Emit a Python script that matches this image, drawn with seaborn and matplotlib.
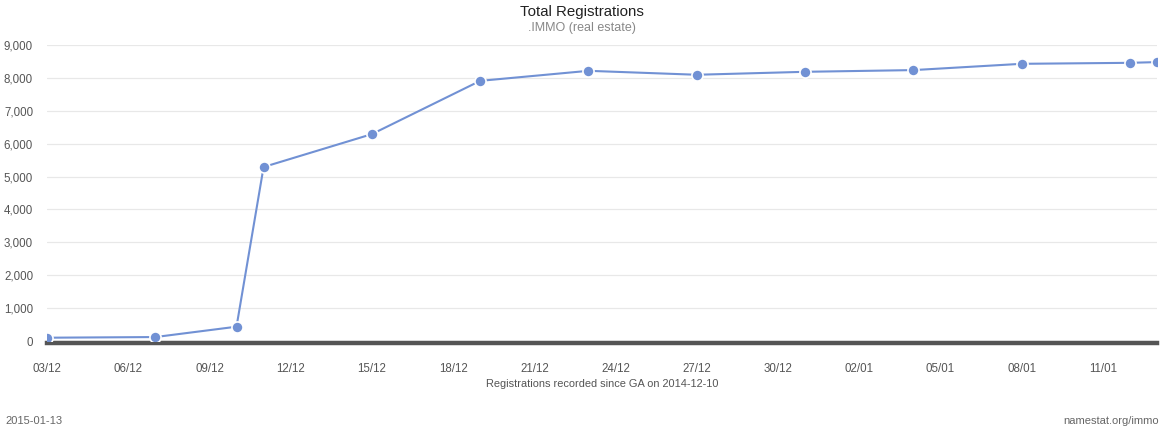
import matplotlib
matplotlib.use("Agg")
import matplotlib.pyplot as plt
import matplotlib.dates as mdates
import seaborn as sns
import pandas as pd
import numpy as np

dates = ["2014-12-03", "2014-12-07", "2014-12-10", "2014-12-11", "2014-12-15",
         "2014-12-19", "2014-12-23", "2014-12-27", "2014-12-31", "2015-01-04",
         "2015-01-08", "2015-01-12", "2015-01-13"]
registrations = [100, 120, 435, 5290, 6290, 7910, 8215, 8095, 8185, 8237, 8428, 8458, 8480]
y_ticks = [0, 1000, 2000, 3000, 4000, 5000, 6000, 7000, 8000, 9000]
tick_dates = ["2014-12-03", "2014-12-06", "2014-12-09", "2014-12-12", "2014-12-15",
              "2014-12-18", "2014-12-21", "2014-12-24", "2014-12-27", "2014-12-30",
              "2015-01-02", "2015-01-05", "2015-01-08", "2015-01-11"]

df = pd.DataFrame({"date": pd.to_datetime(dates), "registrations": registrations})

sns.set_theme(style="white")
plt.rcParams["font.family"] = ["Liberation Sans", "DejaVu Sans"]

W, H = 1164, 430
fig = plt.figure(figsize=(W / 100, H / 100), dpi=100)
ax = fig.add_axes([47 / W, 1 - 341 / H, (1157 - 47) / W, (341 - 45) / H])

line_color = "#7191d4"
sns.lineplot(data=df, x="date", y="registrations", ax=ax, color=line_color,
             linewidth=1.5, marker="o", markersize=8, markeredgecolor="white",
             markeredgewidth=1.2, markerfacecolor=line_color, clip_on=True)

ax.set_xlim(pd.Timestamp("2014-12-03"), pd.Timestamp("2015-01-13"))
ax.set_ylim(0, 9000)
ax.set_yticks(y_ticks)
ax.set_yticklabels([f"{v:,}" for v in y_ticks])
ax.set_xticks(pd.to_datetime(tick_dates))
ax.xaxis.set_major_formatter(mdates.DateFormatter("%d/%m"))

ax.grid(axis="y", color="#e8e8e8", linewidth=0.9)
ax.grid(axis="x", visible=False)
for s in ["top", "right", "left"]:
    ax.spines[s].set_visible(False)
ax.spines["bottom"].set_color("#555555")
ax.spines["bottom"].set_linewidth(3.2)
ax.spines["bottom"].set_position(("outward", 1.5))
ax.spines["bottom"].set_zorder(1)

ax.tick_params(axis="x", length=0, pad=14.5, labelsize=8.3, labelcolor="#555555")
ax.tick_params(axis="y", length=0, pad=10, labelsize=8.3, labelcolor="#555555")
ax.set_xlabel("")
ax.set_ylabel("")

fig.text(582 / W, 1 - 12 / H, "Total Registrations", ha="center", va="center",
         fontsize=10.8, color="#222222")
fig.text(582 / W, 1 - 27.5 / H, ".IMMO (real estate)", ha="center", va="center",
         fontsize=9, color="#888888")
fig.text(602 / W, 1 - 384 / H, "Registrations recorded since GA on 2014-12-10",
         ha="center", va="center", fontsize=7.9, color="#555555")
fig.text(5 / W, 1 - 421 / H, "2015-01-13", ha="left", va="center",
         fontsize=8, color="#666666")
fig.text(1159 / W, 1 - 421 / H, "namestat.org/immo", ha="right", va="center",
         fontsize=8, color="#666666")

fig.savefig("out.png", dpi=100)
